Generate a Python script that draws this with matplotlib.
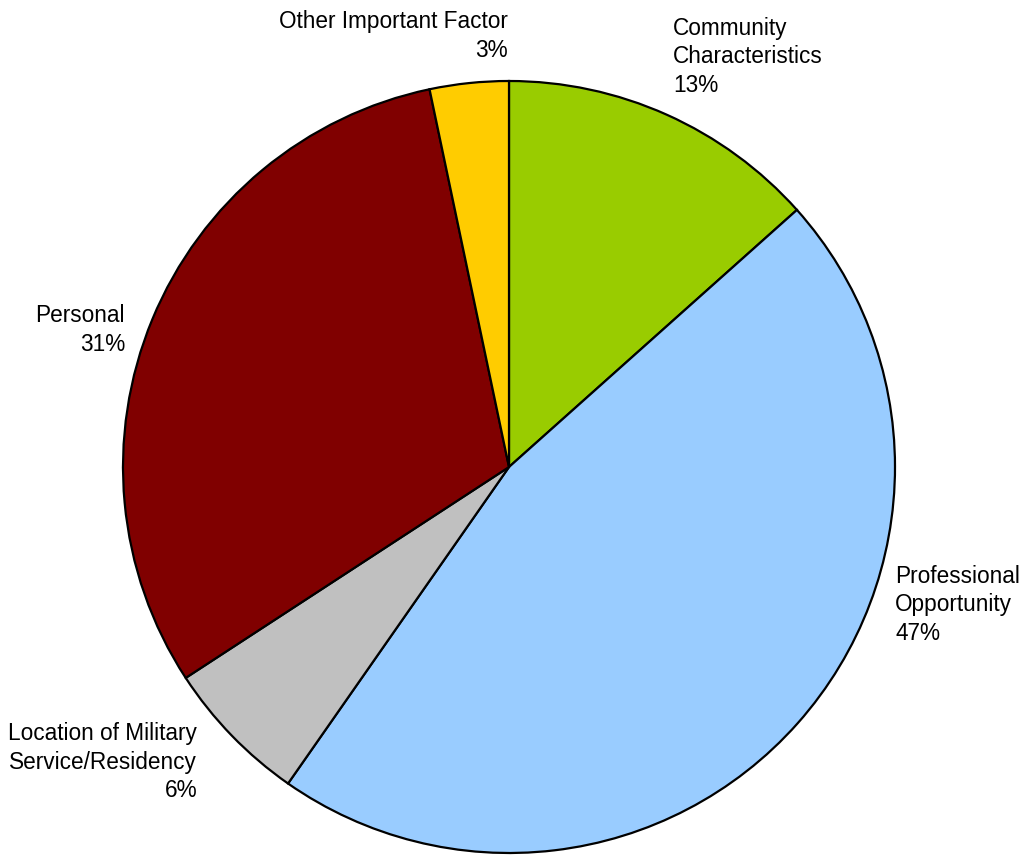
import matplotlib
matplotlib.use('Agg')
import matplotlib.pyplot as plt

plt.rcParams['font.family'] = ['Liberation Sans', 'DejaVu Sans']

# slices, clockwise from 12 o'clock
labels = ['Community\nCharacteristics', 'Professional\nOpportunity',
          'Location of Military\nService/Residency', 'Personal',
          'Other Important Factor']
values = [13.4, 46.3, 6.1, 30.9, 3.3]
pct_labels = ['13%', '47%', '6%', '31%', '3%']
colors = ['#99CC00', '#99CCFF', '#C0C0C0', '#800000', '#FFCC00']

# label placement in pixel coords (x, y from top, alignment)
label_pos = [(673, 57, 'left'), (895, 605, 'left'), (197, 762, 'right'),
             (125, 330, 'right'), (508, 36, 'right')]

W, H = 1022, 855
fig = plt.figure(figsize=(W / 100, H / 100), dpi=100)
ax = fig.add_axes([0, 0, 1, 1])

ax.pie(values, colors=colors, startangle=90, counterclock=False,
       center=(509, H - 467), radius=386, frame=True,
       wedgeprops={'edgecolor': 'black', 'linewidth': 1.6})
ax.set_xlim(0, W)
ax.set_ylim(0, H)
ax.set_aspect('equal')
ax.axis('off')

for lab, pct, (px, py, ha) in zip(labels, pct_labels, label_pos):
    ax.text(px, H - py, lab + '\n' + pct, ha=ha,
            va='center', multialignment=ha, fontsize=16.3, linespacing=1.33,
            color='black')

plt.savefig('out.png', dpi=100)
